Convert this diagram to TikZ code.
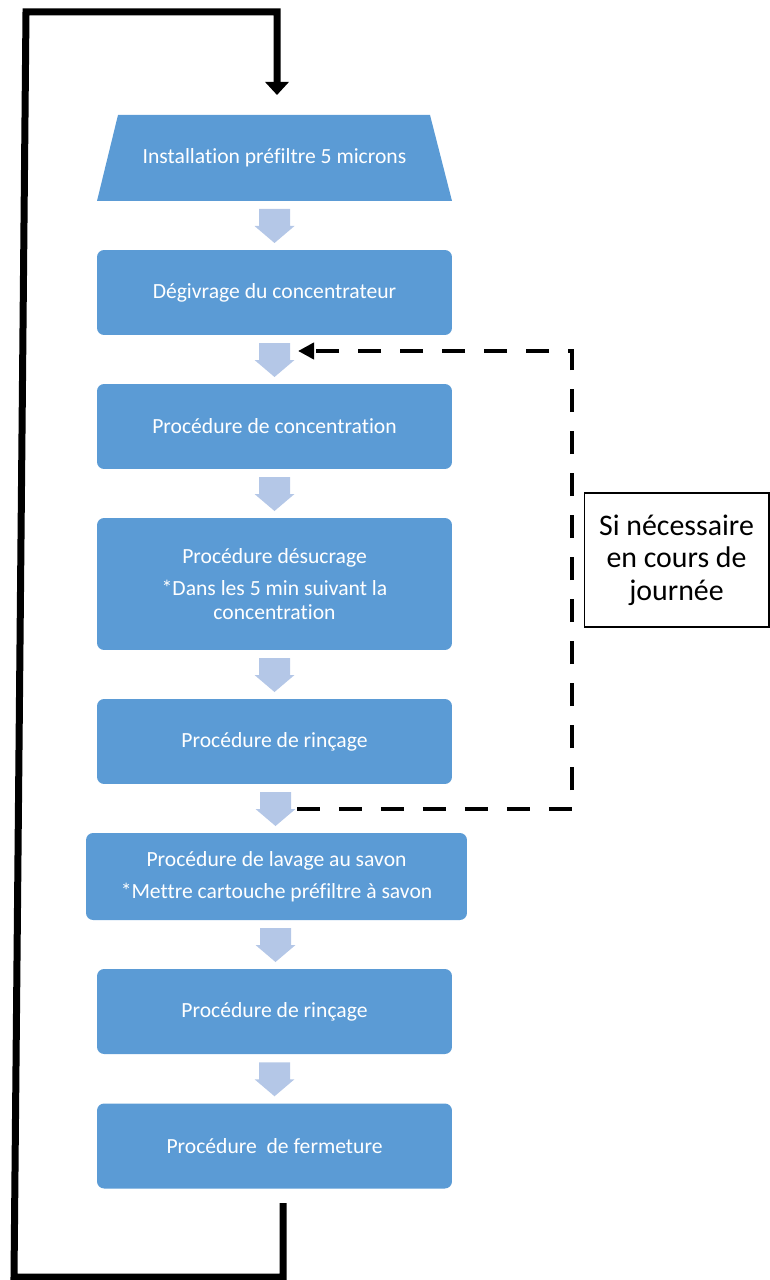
\documentclass[tikz,border=0pt]{standalone}
\usepackage{fontspec}
\setmainfont[Ligatures=NoCommon,RawFeature={-calt;-clig}]{Carlito}
\usetikzlibrary{arrows.meta,calc}
\definecolor{stepblue}{HTML}{5B9BD5}
\definecolor{flowblue}{HTML}{B4C7E7}
\begin{document}
\begin{tikzpicture}[x=0.02cm,y=-0.02cm,line join=miter]
\tikzstyle{stepbox}=[rectangle,rounded corners=4pt,fill=stepblue,text=white,align=center,inner sep=0pt,
  minimum width=7.1cm,minimum height=1.7cm,font=\fontsize{12.3}{13.5}\selectfont]
\tikzstyle{trapstep}=[rectangle,text=white,inner sep=0pt,minimum width=7.1cm,minimum height=1.72cm,
  font=\fontsize{12.3}{13.5}\selectfont]
\tikzstyle{notebox}=[rectangle,draw=black,line width=0.6pt,align=center,inner sep=0pt,
  minimum width=3.7cm,minimum height=2.68cm,font=\fontsize{17}{18.5}\selectfont]
\tikzstyle{dashline}=[line width=0.08cm,dash pattern=on 0.46cm off 0.38cm,-{Triangle[length=0.32cm,width=0.32cm]}]
\tikzstyle{retline}=[line width=0.14cm,-{Triangle[length=0.26cm,width=0.46cm]}]
\useasboundingbox (0,0) rectangle (770,1280);
% steps
\fill[stepblue] (97,201) -- (118,115) -- (430,115) -- (452,201) -- cycle;
\node[trapstep] (inst) at (274.5,158) {Installation préfiltre 5 microns};
\node[stepbox] (degiv) at (274.5,292.5) {Dégivrage du concentrateur};
\node[stepbox] (conc) at (274.5,426.5) {Procédure de concentration};
\node[stepbox,minimum height=2.64cm] (desuc) at (274.5,584) {Procédure désucrage\\[5pt]*Dans les 5 min suivant la\\concentration};
\node[stepbox] (rinc) at (274.5,741.5) {Procédure de rinçage};
\node[stepbox,minimum width=7.62cm,minimum height=1.74cm] (lav) at (276.5,876.5) {Procédure de lavage au savon\\[5pt]*Mettre cartouche préfiltre à savon};
\node[stepbox] (rinc2) at (274.5,1011.5) {Procédure de rinçage};
\node[stepbox] (ferm) at (274.5,1146) {Procédure\ \ de fermeture};
% block arrows
\foreach \a/\b in {inst/degiv,degiv/conc,conc/desuc,desuc/rinc,rinc/lav,lav/rinc2,rinc2/ferm}{
  \coordinate (m) at ($(\a.south)!0.5!(\b.north)$);
  \fill[flowblue,shift={(m)}] (-15.5,-16.5) -- (15.5,-16.5) -- (15.5,0.5) -- (20,0.5) -- (0,17.5)
    -- (-20,0.5) -- (-15.5,0.5) -- cycle;
}
% side note and loops
\node[notebox] (note) at (676.5,560) {Si nécessaire\\en cours de\\journée};
\coordinate (loopin) at (297,809);
\coordinate (loopout) at (298,351);
\draw[dashline] (loopin) -- ++(275,0) |- (loopout);
\coordinate (retS) at (283,1203);
\coordinate (retE) at (277,95);
\draw[retline] (retS) -- (283,1277) -- (14,1277) -- (26,12) -- (277,12) -- (retE);
\end{tikzpicture}
\end{document}
